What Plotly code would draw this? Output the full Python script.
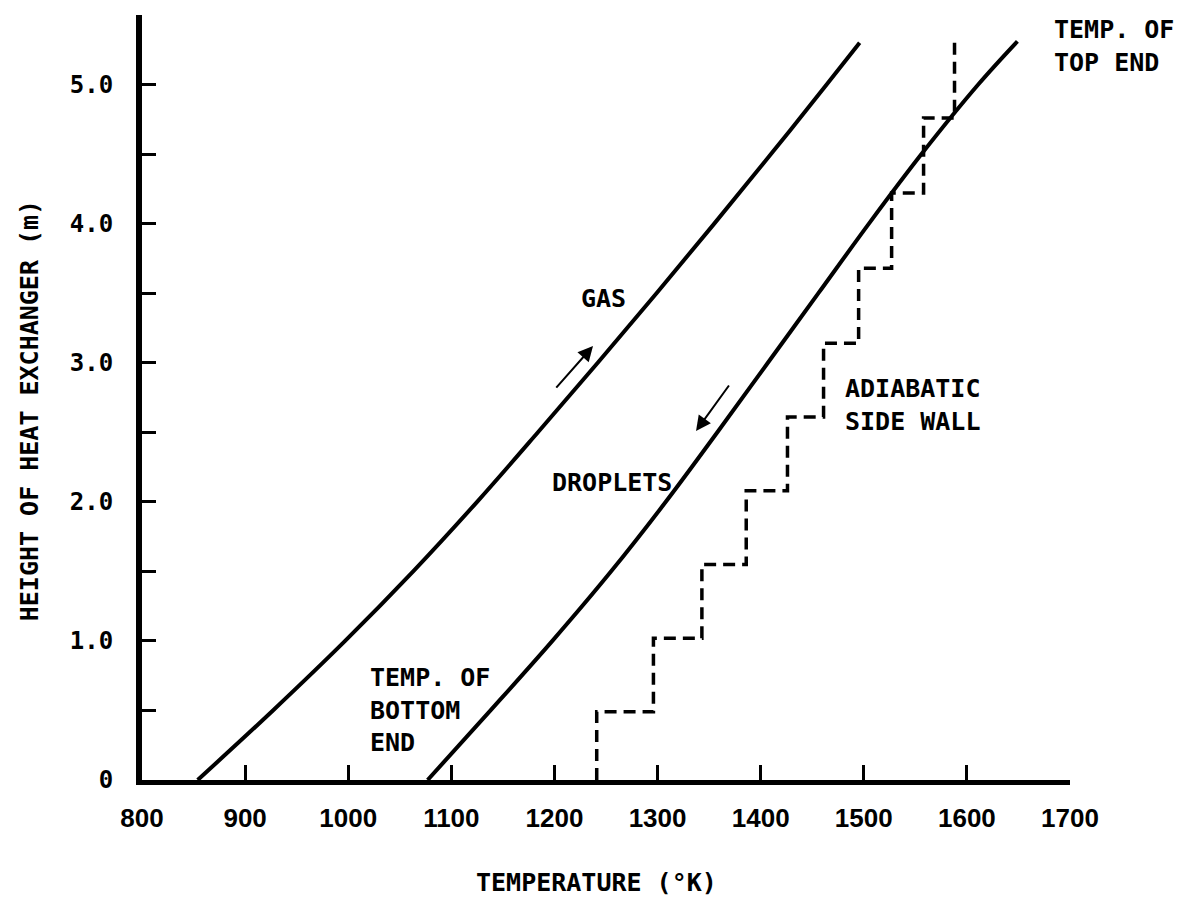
import plotly.graph_objects as go

# ---- data ----
gas_h = [0.0, 0.5, 1.0, 1.5, 2.0, 2.5, 3.0, 3.5, 4.0, 4.5, 5.0, 5.3]
gas_T = [854, 927, 997, 1063, 1125, 1184, 1242, 1299, 1355, 1410, 1464, 1496]

drop_h = [0.0, 0.5, 1.0, 1.5, 2.0, 2.5, 3.0, 3.5, 4.0, 4.5, 5.0, 5.31]
drop_T = [1077, 1138, 1198, 1255, 1308, 1358, 1407, 1456, 1505, 1556, 1611, 1649]

wall_h = [0.0, 0.49, 1.02, 1.55, 2.08, 2.61, 3.14, 3.68, 4.22, 4.76, 5.30]
wall_T = [1241, 1296, 1343, 1386, 1426, 1461, 1495, 1527, 1558, 1588, 1588]

x_ticks = [800, 900, 1000, 1100, 1200, 1300, 1400, 1500, 1600, 1700]
y_ticks = [0, 1, 2, 3, 4, 5]
y_ticktext = ["0", "1.0", "2.0", "3.0", "4.0", "5.0"]
y_minor = [0.5, 1.5, 2.5, 3.5, 4.5, 5.5]

MONO = "DejaVu Sans Mono"
SANS = "Liberation Sans, Arial, sans-serif"

fig = go.Figure()
fig.add_trace(go.Scatter(x=gas_T, y=gas_h, mode="lines", line=dict(color="black", width=4, shape="spline", smoothing=1.0),
                         showlegend=False, hoverinfo="skip"))
fig.add_trace(go.Scatter(x=drop_T, y=drop_h, mode="lines", line=dict(color="black", width=4, shape="spline", smoothing=1.0),
                         showlegend=False, hoverinfo="skip"))
fig.add_trace(go.Scatter(x=wall_T, y=wall_h, mode="lines", line=dict(color="black", width=3.5, shape="vh", dash="12px,7px"),
                         showlegend=False, hoverinfo="skip"))

tfont = dict(family=MONO, size=25, color="black", weight="bold")

def label(text, x, y, xanchor="left"):
    fig.add_annotation(x=x, y=y, text=text, showarrow=False, xanchor=xanchor, yanchor="middle",
                       align="left", font=tfont)

label("TEMP. OF<br>TOP END", 1683, 5.28)
label("GAS", 1248, 3.465, "center")
label("DROPLETS", 1256, 2.142, "center")
label("TEMP. OF<br>BOTTOM<br>END", 1019, 0.50)
label("ADIABATIC<br>SIDE WALL", 1480, 2.696)

# flow-direction arrows
for (hx, hy, tx, ty) in [(1237.4, 3.12, 1200.5, 2.81), (1337.3, 2.509, 1370.3, 2.847)]:
    fig.add_annotation(x=hx, y=hy, ax=tx, ay=ty, xref="x", yref="y", axref="x", ayref="y",
                       text="", showarrow=True, arrowhead=2, arrowsize=1.5, arrowwidth=2, arrowcolor="black")

# axis titles
fig.add_annotation(xref="paper", yref="paper", x=0.4903, y=0, yshift=-102, text="TEMPERATURE (°K)",
                   showarrow=False, xanchor="center", yanchor="middle", font=tfont)
fig.add_annotation(xref="paper", yref="paper", x=0, y=0.482, xshift=-113, text="HEIGHT OF HEAT EXCHANGER (m)",
                   showarrow=False, xanchor="center", yanchor="middle", textangle=-90, font=tfont)

fig.update_xaxes(range=[800, 1700], showgrid=False, zeroline=False, showline=True, linecolor="black", linewidth=5,
                 tickvals=x_ticks, ticks="inside", ticklen=15, tickwidth=3, tickcolor="black",
                 tickfont=dict(family=SANS, size=26, color="black", weight="bold"), ticklabelstandoff=11)
fig.update_yaxes(range=[0, 5.5], showgrid=False, zeroline=False, showline=True, linecolor="black", linewidth=6,
                 tickvals=y_ticks, ticktext=y_ticktext, ticks="inside", ticklen=14, tickwidth=3, tickcolor="black",
                 minor=dict(tickvals=y_minor, ticks="inside", ticklen=14, tickwidth=3, tickcolor="black"),
                 tickfont=dict(family=MONO, size=24, color="black", weight="bold"), ticklabelstandoff=18)

fig.update_layout(width=1182, height=897, margin=dict(l=142, r=112, t=15, b=117),
                  plot_bgcolor="white", paper_bgcolor="white", showlegend=False)

fig.write_html("out.html")
